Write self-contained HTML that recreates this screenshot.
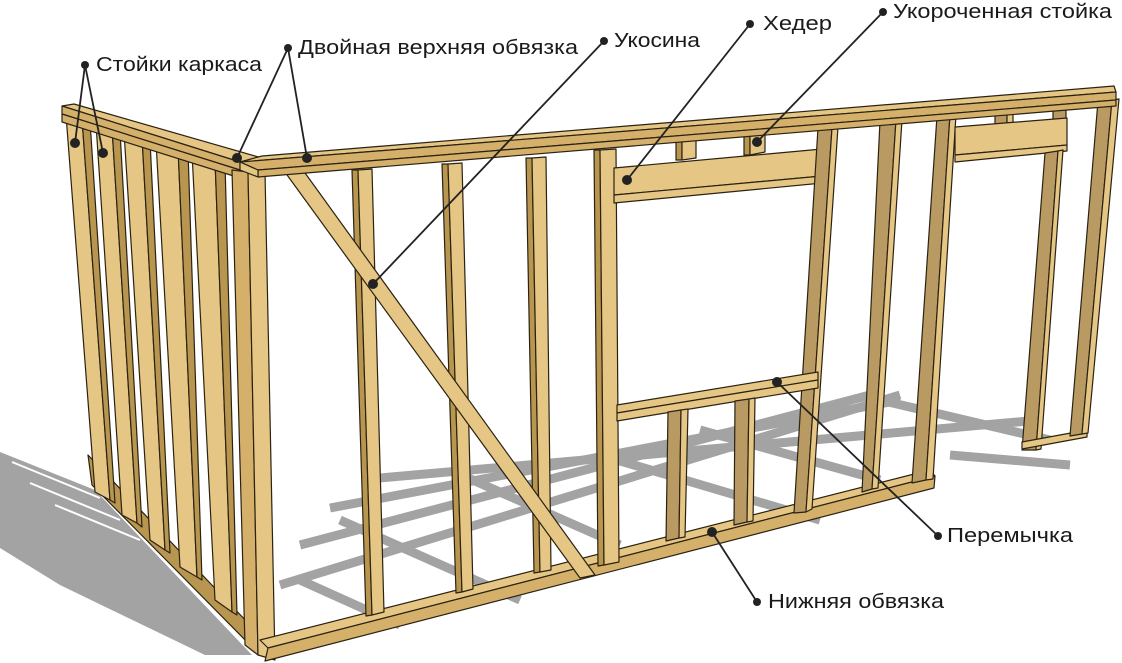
<!DOCTYPE html>
<html><head><meta charset="utf-8"><style>
html,body{margin:0;padding:0;background:#fff;width:1122px;height:663px;overflow:hidden}
svg{display:block}
.w{fill:#e6c684;stroke:#2a2212;stroke-width:1.2;stroke-linejoin:round}
.d{fill:#b9964f;stroke:#2a2212;stroke-width:1.2;stroke-linejoin:round}
.m{fill:#d4b06a;stroke:#2a2212;stroke-width:1.2;stroke-linejoin:round}
.b{fill:#b89a62;stroke:#2a2212;stroke-width:1.2;stroke-linejoin:round}
.sh{stroke:#a3a3a3;stroke-width:9;fill:none;stroke-linecap:butt}
.t{font-family:"Liberation Sans",Arial,sans-serif;font-size:20px;fill:#1a1a1a}
.l{stroke:#222;stroke-width:1.8;fill:none}
.dot{fill:#222}
</style></head><body>
<svg width="1122" height="663" viewBox="0 0 1122 663" xmlns="http://www.w3.org/2000/svg">
<!-- shadows -->
<polygon points="0,452 95,490 252,655 205,655 60,585 0,548" fill="#a3a3a3"/>
<g stroke="#fff" stroke-width="2">
<line x1="5" y1="450" x2="90" y2="482"/>
<line x1="12" y1="462" x2="100" y2="498"/>
<line x1="30" y1="483" x2="120" y2="520"/>
<line x1="55" y1="505" x2="140" y2="540"/>
<line x1="140" y1="525" x2="170" y2="540"/>
</g>
<g class="sh">
<line x1="280" y1="585" x2="900" y2="395"/>
<line x1="300" y1="545" x2="870" y2="395"/>
<line x1="330" y1="508" x2="900" y2="400"/>
<line x1="380" y1="478" x2="1040" y2="420"/>
<line x1="450" y1="470" x2="620" y2="545"/>
<line x1="340" y1="520" x2="520" y2="600"/>
<line x1="300" y1="580" x2="400" y2="625"/>
<line x1="600" y1="455" x2="820" y2="520"/>
<line x1="700" y1="430" x2="880" y2="480"/>
<line x1="880" y1="400" x2="1050" y2="440"/>
<line x1="950" y1="455" x2="1070" y2="465"/>
</g>
<!-- left wall -->
<polygon class="d" points="88,455 250,625 255,650 92,485"/>
<polygon class="w" points="66,115 82,119 110,500 95,492"/>
<polygon class="d" points="82,119 90,121 115,503 110,500"/>
<polygon class="w" points="96,124 112,128 137,523 122,515"/>
<polygon class="d" points="112,128 120,131 142,527 137,523"/>
<polygon class="w" points="124,132 142,137 165,550 150,540"/>
<polygon class="d" points="142,137 150,140 170,553 165,550"/>
<polygon class="w" points="156,142 178,148 197,577 180,567"/>
<polygon class="d" points="178,148 188,151 202,580 197,577"/>
<polygon class="w" points="192,153 215,160 232,612 215,600"/>
<polygon class="d" points="215,160 225,163 237,615 232,612"/>
<!-- left top plate -->
<polygon class="w" points="62,106 74,104 262,158 240,162"/>
<polygon class="m" points="62,106 240,162 240,170 62,114"/>
<polygon class="m" points="62,114 240,170 240,178 62,122"/>
<!-- corner studs -->
<polygon class="m" points="232,170 248,172 258,655 245,645"/>
<polygon class="w" points="248,172 265,172 275,660 258,655"/>
<!-- front wall bottom plate -->
<polygon class="w" points="260,640 930,470 935,476 268,648"/>
<polygon class="m" points="268,648 935,476 934,488 265,661"/>
<!-- studs front wall -->
<polygon class="d" points="352,170 358,170 372,615 366,616"/>
<polygon class="w" points="358,170 372,169 384,612 372,615"/>
<polygon class="d" points="442,164 448,164 462,592 456,593"/>
<polygon class="w" points="448,164 462,163 473,589 462,592"/>
<polygon class="d" points="526,158 532,158 540,572 534,573"/>
<polygon class="w" points="532,158 546,157 551,570 540,572"/>
<polygon class="d" points="594,150 600,150 604,565 598,566"/>
<polygon class="w" points="600,150 616,149 619,562 604,565"/>
<!-- brace -->
<polygon class="w" points="282,168 300,166 595,575 580,578"/>
<!-- window -->
<polygon class="d" points="676,138 682,138 682,160 676,160"/>
<polygon class="w" points="682,138 696,137 696,158 682,160"/>
<polygon class="d" points="744,135 750,135 750,155 744,155"/>
<polygon class="w" points="750,135 765,134 765,152 750,155"/>
<polygon class="w" points="614,168 833,148 833,175 614,195"/>
<polygon class="w" points="614,195 833,175 833,182 614,203"/>
<polygon class="b" points="818,128 832,128 806,512 794,513"/>
<polygon class="w" points="832,128 838,127 812,509 806,512"/>
<polygon class="w" points="617,405 818,372 818,380 617,413"/>
<polygon class="w" points="617,413 818,380 818,388 617,421"/>
<polygon class="b" points="668,412 681,410 679,538 666,541"/>
<polygon class="w" points="681,410 688,409 685,537 679,538"/>
<polygon class="b" points="735,401 749,399 747,522 734,525"/>
<polygon class="w" points="749,399 755,398 753,521 747,522"/>
<!-- right studs -->
<polygon class="b" points="880,121 896,120 872,489 862,492"/>
<polygon class="w" points="896,120 902,120 878,488 872,489"/>
<polygon class="b" points="937,116 950,115 926,480 912,483"/>
<polygon class="w" points="950,115 956,115 933,479 926,480"/>
<!-- door -->
<polygon class="b" points="995,113 1007,112 1007,125 995,126"/>
<polygon class="w" points="1007,112 1013,112 1013,124 1007,125"/>
<polygon class="b" points="1053,107 1066,106 1066,120 1053,121"/>
<polygon class="w" points="955,127 1067,118 1067,145 955,155"/>
<polygon class="w" points="955,155 1067,145 1067,151 955,162"/>
<polygon class="b" points="1045,153 1058,151 1036,450 1022,450"/>
<polygon class="w" points="1058,151 1063,150 1041,449 1036,450"/>
<polygon class="w" points="1022,442 1087,430 1087,437 1022,449"/>
<polygon class="b" points="1098,101 1112,100 1082,434 1070,436"/>
<polygon class="w" points="1112,100 1119,99 1088,433 1082,434"/>
<!-- front top plate -->
<polygon class="w" points="240,162 262,156 1114,86 1116,92"/>
<polygon class="m" points="240,162 1116,92 1116,100 258,170"/>
<polygon class="m" points="258,170 1116,100 1116,106 258,177"/>
<polygon class="w" points="240,162 258,170 258,177 240,170"/>
<!-- labels -->
<g class="l">
<line x1="85" y1="65" x2="75" y2="143"/>
<line x1="85" y1="65" x2="103" y2="153"/>
<line x1="288" y1="48" x2="237" y2="158"/>
<line x1="288" y1="48" x2="307" y2="158"/>
<line x1="604" y1="41" x2="373" y2="284"/>
<line x1="750" y1="24" x2="627" y2="180"/>
<line x1="883" y1="12" x2="757" y2="142"/>
<line x1="938" y1="536" x2="777" y2="382"/>
<line x1="757" y1="602" x2="712" y2="532"/>
</g>
<g class="dot">
<circle cx="85" cy="65" r="4"/><circle cx="75" cy="143" r="5"/><circle cx="103" cy="153" r="5"/>
<circle cx="288" cy="48" r="4"/><circle cx="237" cy="158" r="5"/><circle cx="307" cy="158" r="5"/>
<circle cx="604" cy="41" r="4"/><circle cx="373" cy="284" r="5"/>
<circle cx="750" cy="24" r="4"/><circle cx="627" cy="180" r="5"/>
<circle cx="883" cy="12" r="4"/><circle cx="757" cy="142" r="5"/>
<circle cx="938" cy="536" r="4"/><circle cx="777" cy="382" r="5"/>
<circle cx="757" cy="602" r="4"/><circle cx="712" cy="532" r="5"/>
</g>
<text class="t" x="96" y="71" textLength="166" lengthAdjust="spacingAndGlyphs">Стойки каркаса</text>
<text class="t" x="298" y="54" textLength="280" lengthAdjust="spacingAndGlyphs">Двойная верхняя обвязка</text>
<text class="t" x="614" y="47" textLength="86" lengthAdjust="spacingAndGlyphs">Укосина</text>
<text class="t" x="763" y="30" textLength="69" lengthAdjust="spacingAndGlyphs">Хедер</text>
<text class="t" x="893" y="18" textLength="219" lengthAdjust="spacingAndGlyphs">Укороченная стойка</text>
<text class="t" x="947" y="542" textLength="126" lengthAdjust="spacingAndGlyphs">Перемычка</text>
<text class="t" x="768" y="608" textLength="176" lengthAdjust="spacingAndGlyphs">Нижняя обвязка</text>
</svg>
</body></html>
